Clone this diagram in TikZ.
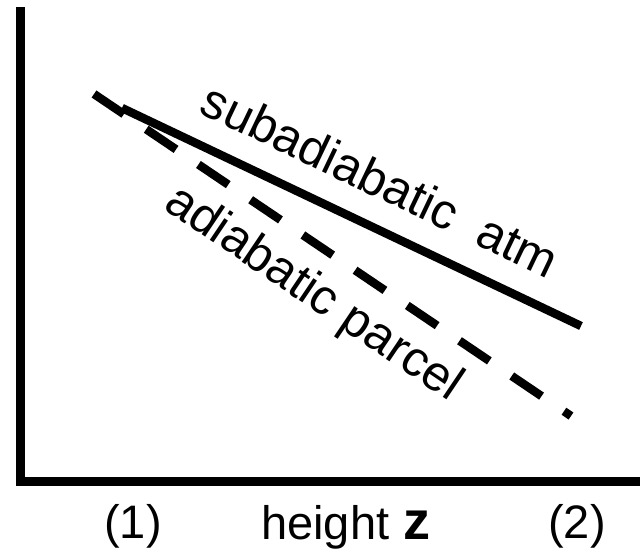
\documentclass[tikz,border=0pt]{standalone}
\usepackage{fontspec}
\setmainfont{Liberation Sans}
\begin{document}
\begin{tikzpicture}[x=1pt,y=-1pt,
  axis/.style={line width=8.5pt},
  curve/.style={line width=8.5pt},
  bigtext/.style={font=\fontsize{49.5}{54}\selectfont, inner sep=0pt},
  lbl/.style={font=\fontsize{47}{52}\selectfont, inner sep=0pt}]
\useasboundingbox (0,0) rectangle (640,557);
\coordinate (top) at (20.5,7);
\coordinate (origin) at (20.5,481.5);
\coordinate (right) at (640,481.5);
\draw[axis] (top) -- (origin) -- (right);
\coordinate (s1) at (122,108);
\coordinate (s2) at (581,326);
\draw[curve] (s1) -- (s2);
\coordinate (d1) at (94,94);
\coordinate (d2) at (571,416);
\draw[curve, dash pattern=on 36pt off 27pt] (d1) -- (d2);
\node[bigtext, rotate=-25.5, anchor=base] (atm) at (373,196) {subadiabatic\ \ atm};
\node[bigtext, rotate=-34, anchor=base] (parcel) at (306,305) {adiabatic parcel};
\node[lbl, anchor=base] (p1) at (133,538) {(1)};
\node[lbl, anchor=base west] (ht) at (261,539) {height};
\node[anchor=base west, inner sep=0pt, font=\fontsize{54}{58}\selectfont\bfseries] (zz) at (403,539) {z};
\node[lbl, anchor=base] (p2) at (577,538) {(2)};
\end{tikzpicture}
\end{document}
